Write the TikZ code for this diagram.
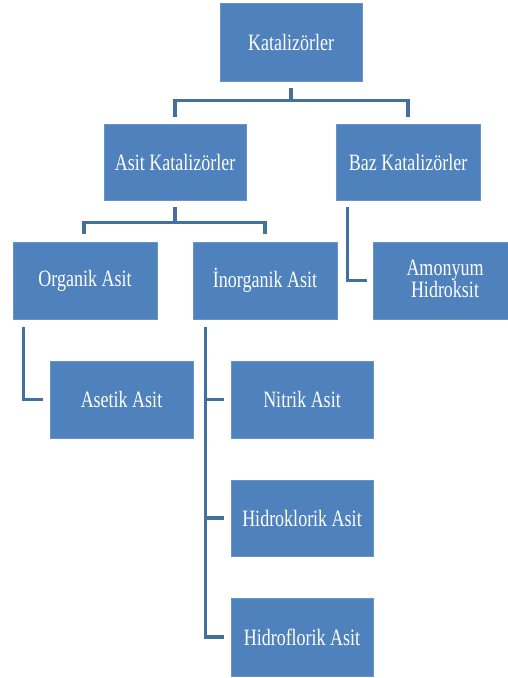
\documentclass[tikz,border=0pt]{standalone}
\usepackage{fontspec}
\setmainfont{Liberation Serif}
\usepackage{graphicx}
\definecolor{boxblue}{HTML}{4F81BD}
\definecolor{lineblue}{HTML}{41719C}
\newcommand{\tallt}[1]{\scalebox{1}[1.3]{#1}}
\tikzset{
  box/.style={rectangle, fill=boxblue, draw=boxblue!85!white, line width=0.6pt,
    minimum width=143pt, minimum height=77pt, inner sep=0pt,
    text=white, font=\fontsize{18}{21.6}\selectfont, align=center},
  conn/.style={draw=lineblue, line width=3.2pt, line cap=butt, line join=miter}
}
\begin{document}
\begin{tikzpicture}[x=1pt,y=-1pt]
\useasboundingbox[fill=white] (0,0) rectangle (507,678);
\node[box, minimum width=142pt, minimum height=78pt] (kat) at (291,42) {\tallt{Katalizörler}};
\node[box, minimum width=142pt, minimum height=76pt] (asit) at (175,162) {\tallt{Asit Katalizörler}};
\node[box, minimum width=144pt, minimum height=76pt] (baz) at (408,162) {\tallt{Baz Katalizörler}};
\node[box, minimum width=144pt] (org) at (85,280.5) {\tallt{Organik Asit}};
\node[box, minimum width=144pt] (inorg) at (265,280.5) {\tallt{İnorganik Asit}};
\node[box, minimum width=144pt] (amon) at (445,280.5) {\tallt{\begin{tabular}{@{}c@{}}Amonyum\\[-4.7pt]Hidroksit\end{tabular}}};
\node[box] (aset) at (121.5,399.5) {\tallt{Asetik Asit}};
\node[box, minimum width=142pt] (nit) at (302,399.5) {\tallt{Nitrik Asit}};
\node[box, minimum width=142pt, minimum height=76pt] (hkl) at (302,518) {\tallt{Hidroklorik Asit}};
\node[box, minimum width=142pt, minimum height=78pt] (hfl) at (302,637) {\tallt{Hidroflorik Asit}};
% connectors
\coordinate (ibus) at ([xshift=13pt,yshift=-8pt]inorg.south west);
\draw[conn] ([yshift=-7pt]kat.south) -- ([yshift=-19pt]kat.south) -| ([yshift=7pt]asit.north);
\draw[conn] ([yshift=-19pt]kat.south) -| ([yshift=7pt]baz.north);
\draw[conn] ([yshift=-7pt]asit.south) -- ([yshift=-22pt]asit.south) -| ([xshift=-1pt,yshift=8pt]org.north);
\draw[conn] ([yshift=-22pt]asit.south) -| ([yshift=8pt]inorg.north);
\draw[conn] ([xshift=12pt,yshift=-7pt]baz.south west) |- ([xshift=-6pt]amon.west);
\draw[conn] ([xshift=11pt,yshift=-8pt]org.south west) |- ([xshift=-7pt]aset.west);
\draw[conn] (ibus) |- ([xshift=-7pt]hfl.west);
\draw[conn] (ibus |- nit.west) -- ([xshift=-7pt]nit.west);
\draw[conn] (ibus |- hkl.west) -- ([xshift=-7pt]hkl.west);
\end{tikzpicture}
\end{document}
